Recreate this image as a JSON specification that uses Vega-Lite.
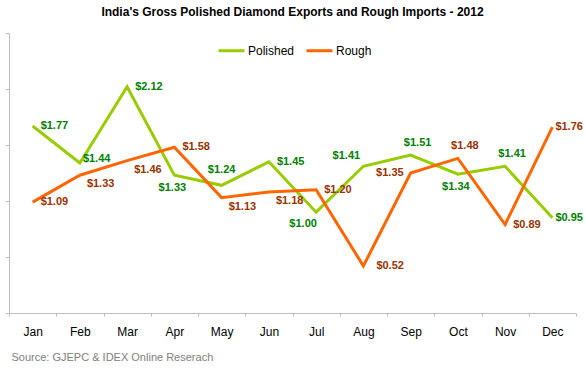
{
  "$schema": "https://vega.github.io/schema/vega-lite/v6.json",
  "width": 567,
  "height": 280,
  "autosize": "none",
  "padding": {"left": 9, "top": 33, "right": 9, "bottom": 56},
  "background": "white",
  "title": {"text": "India's Gross Polished Diamond Exports and Rough Imports - 2012", "fontSize": 12, "fontWeight": "bold", "font": "Liberation Sans", "color": "#000000", "anchor": "middle", "frame": "group", "offset": 14},
  "data": {"values": [
    {"month": "Jan", "series": "Polished", "value": 1.77},
    {"month": "Feb", "series": "Polished", "value": 1.44},
    {"month": "Mar", "series": "Polished", "value": 2.12},
    {"month": "Apr", "series": "Polished", "value": 1.33},
    {"month": "May", "series": "Polished", "value": 1.24},
    {"month": "Jun", "series": "Polished", "value": 1.45},
    {"month": "Jul", "series": "Polished", "value": 1.00},
    {"month": "Aug", "series": "Polished", "value": 1.41},
    {"month": "Sep", "series": "Polished", "value": 1.51},
    {"month": "Oct", "series": "Polished", "value": 1.34},
    {"month": "Nov", "series": "Polished", "value": 1.41},
    {"month": "Dec", "series": "Polished", "value": 0.95},
    {"month": "Jan", "series": "Rough", "value": 1.09},
    {"month": "Feb", "series": "Rough", "value": 1.33},
    {"month": "Mar", "series": "Rough", "value": 1.46},
    {"month": "Apr", "series": "Rough", "value": 1.58},
    {"month": "May", "series": "Rough", "value": 1.13},
    {"month": "Jun", "series": "Rough", "value": 1.18},
    {"month": "Jul", "series": "Rough", "value": 1.20},
    {"month": "Aug", "series": "Rough", "value": 0.52},
    {"month": "Sep", "series": "Rough", "value": 1.35},
    {"month": "Oct", "series": "Rough", "value": 1.48},
    {"month": "Nov", "series": "Rough", "value": 0.89},
    {"month": "Dec", "series": "Rough", "value": 1.76}
  ]},
  "transform": [{"calculate": "(datum.series == 'Polished' ? 'P' : 'R') + ':' + datum.month", "as": "key"}],
  "encoding": {
    "x": {"field": "month", "type": "nominal", "sort": ["Jan","Feb","Mar","Apr","May","Jun","Jul","Aug","Sep","Oct","Nov","Dec"],
      "scale": {"type": "band", "paddingInner": 0, "paddingOuter": 0},
      "axis": {"title": "Source: GJEPC & IDEX Online Reserach", "titleAnchor": "start", "titleAlign": "left", "titleX": 2, "titleFontWeight": "normal", "titleFontSize": 11, "titleColor": "#808080", "titleFont": "Liberation Sans", "titlePadding": 14,
        "labelAngle": 0, "labelFontSize": 12, "labelFont": "Liberation Sans", "labelColor": "#000000", "labelPadding": 10,
        "tickSize": 3, "tickColor": "#BFBFBF", "domainColor": "#BFBFBF", "tickBand": "extent", "grid": false}},
    "y": {"field": "value", "type": "quantitative", "scale": {"domain": [0.1, 2.6], "nice": false, "zero": false},
      "axis": {"values": [0.1, 0.6, 1.1, 1.6, 2.1, 2.6], "labels": false, "title": null, "tickSize": 4, "tickColor": "#BFBFBF", "domainColor": "#BFBFBF", "grid": false}}
  },
  "layer": [
    {"mark": {"type": "line", "strokeWidth": 3},
     "encoding": {"color": {"field": "series", "type": "nominal", "scale": {"domain": ["Polished", "Rough"], "range": ["#99CC00", "#FF6600"]},
       "legend": {"orient": "none", "legendX": 208, "legendY": 3, "direction": "horizontal", "title": null, "symbolType": "stroke", "symbolSize": 676, "symbolStrokeWidth": 3, "labelFontSize": 12, "labelFont": "Liberation Sans", "labelColor": "#000000", "labelOffset": 2, "columnPadding": 5}}}},
    {"transform": [{"filter": "indexof(['P:Jan','P:Mar','P:Jun','R:Jan','R:Apr','R:Jul','R:Nov'], datum.key) >= 0"}],
     "mark": {"type": "text", "align": "left", "baseline": "middle", "dx": 8, "dy": 0, "fontSize": 11, "fontWeight": "bold", "font": "Liberation Sans"},
     "encoding": {"text": {"field": "value", "format": "$.2f"}, "color": {"condition": {"test": "datum.series == 'Polished'", "value": "#008000"}, "value": "#993300"}}},
    {"transform": [{"filter": "indexof(['P:Dec','R:Dec'], datum.key) >= 0"}],
     "mark": {"type": "text", "align": "left", "baseline": "middle", "dx": 3, "dy": 0, "fontSize": 11, "fontWeight": "bold", "font": "Liberation Sans"},
     "encoding": {"text": {"field": "value", "format": "$.2f"}, "color": {"condition": {"test": "datum.series == 'Polished'", "value": "#008000"}, "value": "#993300"}}},
    {"transform": [{"filter": "indexof(['P:Feb'], datum.key) >= 0"}],
     "mark": {"type": "text", "align": "left", "baseline": "middle", "dx": 3, "dy": -4, "fontSize": 11, "fontWeight": "bold", "font": "Liberation Sans"},
     "encoding": {"text": {"field": "value", "format": "$.2f"}, "color": {"condition": {"test": "datum.series == 'Polished'", "value": "#008000"}, "value": "#993300"}}},
    {"transform": [{"filter": "indexof(['R:Feb','R:Mar','R:May','R:Jun'], datum.key) >= 0"}],
     "mark": {"type": "text", "align": "left", "baseline": "middle", "dx": 7, "dy": 9, "fontSize": 11, "fontWeight": "bold", "font": "Liberation Sans"},
     "encoding": {"text": {"field": "value", "format": "$.2f"}, "color": {"condition": {"test": "datum.series == 'Polished'", "value": "#008000"}, "value": "#993300"}}},
    {"transform": [{"filter": "indexof(['R:Aug'], datum.key) >= 0"}],
     "mark": {"type": "text", "align": "left", "baseline": "middle", "dx": 13, "dy": 0, "fontSize": 11, "fontWeight": "bold", "font": "Liberation Sans"},
     "encoding": {"text": {"field": "value", "format": "$.2f"}, "color": {"condition": {"test": "datum.series == 'Polished'", "value": "#008000"}, "value": "#993300"}}},
    {"transform": [{"filter": "indexof(['P:Apr','P:Oct'], datum.key) >= 0"}],
     "mark": {"type": "text", "align": "center", "baseline": "middle", "dx": -2, "dy": 13, "fontSize": 11, "fontWeight": "bold", "font": "Liberation Sans"},
     "encoding": {"text": {"field": "value", "format": "$.2f"}, "color": {"condition": {"test": "datum.series == 'Polished'", "value": "#008000"}, "value": "#993300"}}},
    {"transform": [{"filter": "indexof(['P:Jul'], datum.key) >= 0"}],
     "mark": {"type": "text", "align": "center", "baseline": "middle", "dx": -13, "dy": 12, "fontSize": 11, "fontWeight": "bold", "font": "Liberation Sans"},
     "encoding": {"text": {"field": "value", "format": "$.2f"}, "color": {"condition": {"test": "datum.series == 'Polished'", "value": "#008000"}, "value": "#993300"}}},
    {"transform": [{"filter": "indexof(['P:May'], datum.key) >= 0"}],
     "mark": {"type": "text", "align": "center", "baseline": "middle", "dx": 0, "dy": -15, "fontSize": 11, "fontWeight": "bold", "font": "Liberation Sans"},
     "encoding": {"text": {"field": "value", "format": "$.2f"}, "color": {"condition": {"test": "datum.series == 'Polished'", "value": "#008000"}, "value": "#993300"}}},
    {"transform": [{"filter": "indexof(['P:Aug'], datum.key) >= 0"}],
     "mark": {"type": "text", "align": "center", "baseline": "middle", "dx": -17, "dy": -10, "fontSize": 11, "fontWeight": "bold", "font": "Liberation Sans"},
     "encoding": {"text": {"field": "value", "format": "$.2f"}, "color": {"condition": {"test": "datum.series == 'Polished'", "value": "#008000"}, "value": "#993300"}}},
    {"transform": [{"filter": "indexof(['P:Sep','P:Nov','R:Oct'], datum.key) >= 0"}],
     "mark": {"type": "text", "align": "center", "baseline": "middle", "dx": 7, "dy": -12, "fontSize": 11, "fontWeight": "bold", "font": "Liberation Sans"},
     "encoding": {"text": {"field": "value", "format": "$.2f"}, "color": {"condition": {"test": "datum.series == 'Polished'", "value": "#008000"}, "value": "#993300"}}},
    {"transform": [{"filter": "indexof(['R:Sep'], datum.key) >= 0"}],
     "mark": {"type": "text", "align": "right", "baseline": "middle", "dx": -7, "dy": 0, "fontSize": 11, "fontWeight": "bold", "font": "Liberation Sans"},
     "encoding": {"text": {"field": "value", "format": "$.2f"}, "color": {"condition": {"test": "datum.series == 'Polished'", "value": "#008000"}, "value": "#993300"}}}
  ],
  "config": {"view": {"stroke": null}}
}
